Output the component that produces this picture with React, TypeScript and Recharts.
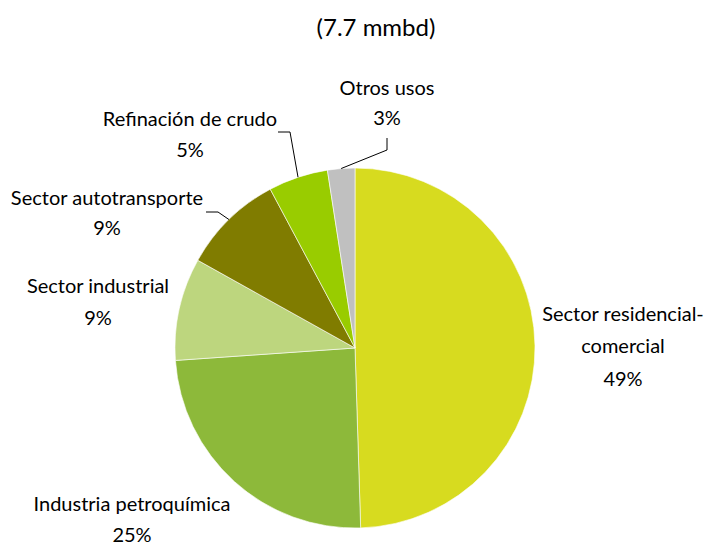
import React from 'react';
import { PieChart, Pie, Cell } from 'recharts';

const categories = [
  'Sector residencial-comercial',
  'Industria petroquímica',
  'Sector industrial',
  'Sector autotransporte',
  'Refinación de crudo',
  'Otros usos',
];
const shares = [49.5, 24.4, 9.2, 9.1, 5.35, 2.45];
const pctLabels = ['49%', '25%', '9%', '9%', '5%', '3%'];
const labelLines = [
  ['Sector residencial-', 'comercial'],
  ['Industria petroquímica'],
  ['Sector industrial'],
  ['Sector autotransporte'],
  ['Refinación de crudo'],
  ['Otros usos'],
];
const title = '(7.7 mmbd)';

const colors = ['#D7DB1F', '#8DB93A', '#BDD67E', '#807C00', '#99CC00', '#C0C0C0'];

// label layout relative to pie centre (style only)
const labelLayout = [
  { dx: 268, dy: [-27, 5, 38], knee: null },
  { dx: -223, dy: [163, 194], knee: null },
  { dx: -257, dy: [-55, -23], knee: null },
  { dx: -248, dy: [-143, -113], knee: [[-149, -136], [-137, -136]] },
  { dx: -165, dy: [-222, -191], knee: [[-77, -216], [-65, -216]] },
  { dx: 32, dy: [-253, -223], knee: [[32, -210], [32, -198]] },
];

const data = categories.map((name, i) => ({ name, value: shares[i], pct: pctLabels[i] }));

const FONT = 'Lato, "Open Sans", sans-serif';
const RAD = Math.PI / 180;

const renderLabel = (props: any) => {
  const { cx, cy, midAngle, outerRadius, index } = props;
  const lay = labelLayout[index];
  const lines = [...labelLines[index], pctLabels[index]];
  let leader = null;
  if (lay.knee) {
    const ex = cx + outerRadius * Math.cos(-midAngle * RAD);
    const ey = cy + outerRadius * Math.sin(-midAngle * RAD);
    const pts = lay.knee.map(([x, y]) => `${cx + x},${cy + y}`).join(' ');
    leader = <polyline points={`${pts} ${ex},${ey}`} fill="none" stroke="#000" strokeWidth={1} />;
  }
  return (
    <g key={`lbl-${index}`}>
      {leader}
      {lines.map((t, j) => (
        <text
          key={j}
          x={cx + lay.dx}
          y={cy + lay.dy[j]}
          textAnchor="middle"
          fontFamily={FONT}
          fontSize={20}
          fill="#000"
        >
          {t}
        </text>
      ))}
    </g>
  );
};

export default function App() {
  return (
    <div style={{ position: 'absolute', left: 0, top: 0, width: 704, height: 547, background: '#fff' }}>
      <div
        style={{
          position: 'absolute',
          left: 0,
          width: 752,
          top: 13,
          lineHeight: '28.8px',
          textAlign: 'center',
          fontFamily: FONT,
          fontSize: 24,
          color: '#000',
        }}
      >
        {title}
      </div>
      <PieChart
        width={704}
        height={547}
        margin={{ top: 0, right: 0, bottom: 0, left: 0 }}
        style={{ position: 'absolute', left: 0, top: 0 }}
      >
        <Pie
          data={data}
          dataKey="value"
          nameKey="name"
          cx={355}
          cy={348}
          outerRadius={180}
          startAngle={90}
          endAngle={-270}
          stroke="#ffffff"
          strokeWidth={0.6}
          label={renderLabel}
          labelLine={false}
          isAnimationActive={false}
        >
          {data.map((d, i) => (
            <Cell key={d.name} fill={colors[i]} />
          ))}
        </Pie>
      </PieChart>
    </div>
  );
}
